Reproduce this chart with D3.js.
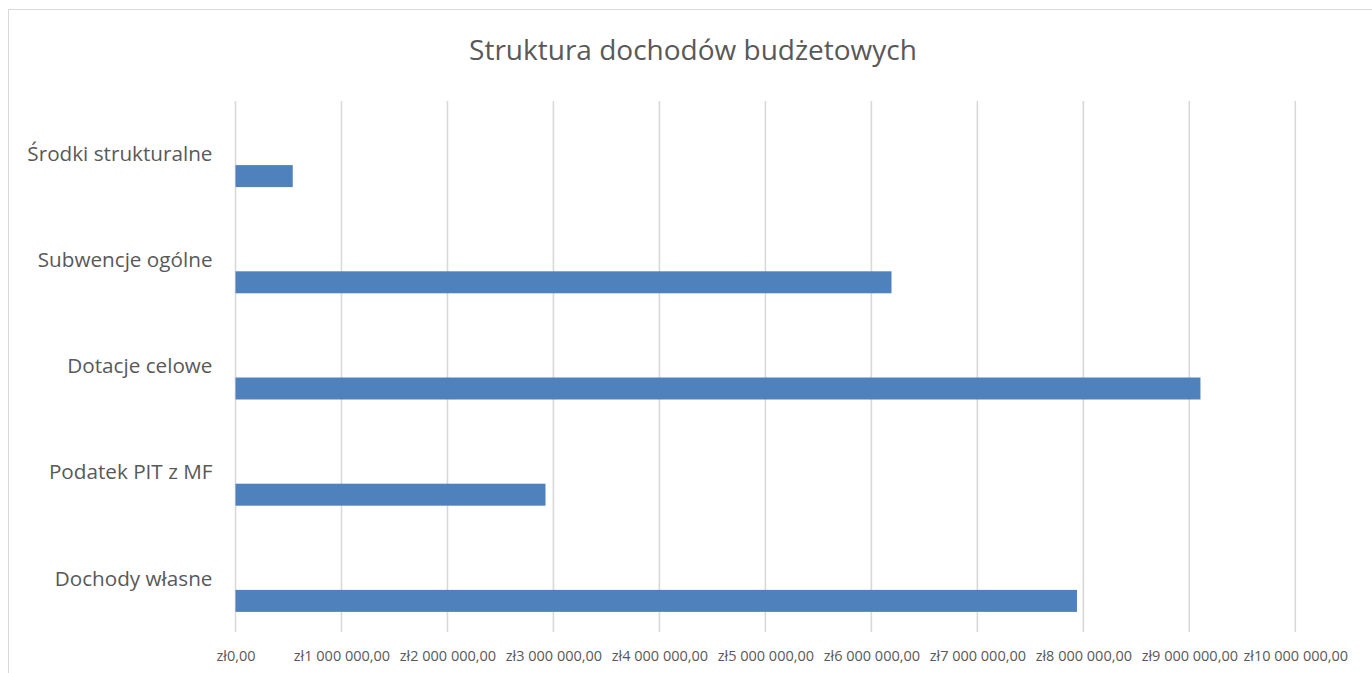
<!DOCTYPE html>
<html>
<head>
<meta charset="utf-8">
<script src="https://cdn.jsdelivr.net/npm/d3@7"></script>
<style>
  html, body { margin: 0; padding: 0; background: #fff; overflow: hidden; }
</style>
</head>
<body>
<div id="chart"></div>
<script>
// Chart data
const categories = ["Środki strukturalne", "Subwencje ogólne", "Dotacje celowe", "Podatek PIT z MF", "Dochody własne"];
const values = [540000, 6190000, 9105000, 2925000, 7940000];
const xTicks = [0, 1000000, 2000000, 3000000, 4000000, 5000000, 6000000, 7000000, 8000000, 9000000, 10000000];
const title = "Struktura dochodów budżetowych";

const W = 1372, H = 673;
const fontFamily = "'Open Sans', 'Noto Sans', sans-serif";
const textColor = "#595959";

const svg = d3.select("#chart")
    .append("svg")
    .attr("width", W)
    .attr("height", H);

// Chart border (right and bottom edges run off the page)
svg.append("rect")
    .attr("x", 8.5)
    .attr("y", 9.5)
    .attr("width", 1380)
    .attr("height", 700)
    .attr("fill", "#fff")
    .attr("stroke", "#d9d9d9")
    .attr("stroke-width", 1);

// Plot area
const plot = {left: 235.5, right: 1295.3, top: 101, bottom: 632};

const x = d3.scaleLinear()
    .domain([0, 10000000])
    .range([plot.left, plot.right]);

const y = d3.scaleBand()
    .domain(categories)
    .range([plot.top, plot.bottom])
    .padding(0);

// Excel places the visible series in the third slot of each category
const slot = d3.scaleBand()
    .domain([0, 1, 2])
    .range([0, y.bandwidth()])
    .paddingInner(0)
    .paddingOuter(0.914);

// Gridlines
svg.append("g")
    .selectAll("line")
    .data(xTicks)
    .enter()
    .append("line")
    .attr("x1", d => x(d))
    .attr("x2", d => x(d))
    .attr("y1", plot.top)
    .attr("y2", plot.bottom)
    .attr("stroke", "#d9d9d9")
    .attr("stroke-width", 1.6);

// Bars
svg.append("g")
    .selectAll("rect")
    .data(categories)
    .enter()
    .append("rect")
    .attr("x", x(0))
    .attr("y", d => y(d) + slot(2))
    .attr("width", (d, i) => x(values[i]) - x(0))
    .attr("height", slot.bandwidth())
    .attr("fill", "#4f81bd");

// X axis labels
const fmt = v => "zł" + d3.format(",")(v).replace(/,/g, " ") + ",00";
const xAxis = svg.append("g")
    .attr("transform", `translate(0,${plot.bottom})`)
    .call(d3.axisBottom(x).tickValues(xTicks).tickFormat(fmt).tickSize(0).tickPadding(18.5));
xAxis.select(".domain").remove();
xAxis.selectAll("text")
    .style("font-family", fontFamily)
    .style("font-size", "14.5px")
    .attr("fill", textColor);

// Category labels
const yAxis = svg.append("g")
    .attr("transform", `translate(${plot.left},0)`)
    .call(d3.axisLeft(y).tickSize(0).tickPadding(23));
yAxis.select(".domain").remove();
yAxis.selectAll("text")
    .style("font-family", fontFamily)
    .style("font-size", "20.7px")
    .attr("fill", textColor);

// Title
svg.append("text")
    .attr("x", 693)
    .attr("y", 60)
    .attr("text-anchor", "middle")
    .style("font-family", fontFamily)
    .style("font-size", "28px")
    .attr("fill", textColor)
    .text(title);
</script>
</body>
</html>
